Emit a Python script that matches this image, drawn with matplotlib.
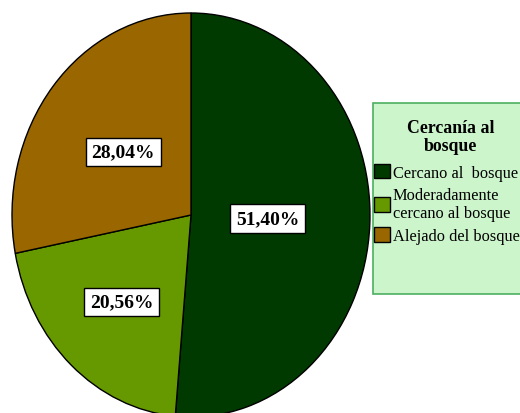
import matplotlib
matplotlib.use('Agg')
import numpy as np
import matplotlib.pyplot as plt
from matplotlib.patches import Rectangle

categorias = ['Cercano al  bosque', 'Moderadamente\ncercano al bosque', 'Alejado del bosque']
porcentajes = [51.40, 20.56, 28.04]
colores = ['#003a00', '#669900', '#996600']
titulo_leyenda = 'Cercanía al\nbosque'
# distancia radial de cada etiqueta
dist_etiqueta = [0.43, 0.58, 0.49]

plt.rcParams['font.family'] = ['Liberation Serif', 'DejaVu Serif']

fig = plt.figure(figsize=(5.2, 4.14), dpi=100)
# el pie es una elipse que se sale un poco por abajo
ax = fig.add_axes([12/520, -4/414, 358/520, 404/414])
wedges, _ = ax.pie(porcentajes, colors=colores, startangle=90, counterclock=False,
                   wedgeprops=dict(edgecolor='black', linewidth=1))
ax.set_aspect('auto')
ax.set_xlim(-1, 1)
ax.set_ylim(-1, 1)

for w, p, r in zip(wedges, porcentajes, dist_etiqueta):
    ang = np.deg2rad((w.theta1 + w.theta2) / 2)
    ax.text(r * np.cos(ang), r * np.sin(ang), f'{p:.2f}%'.replace('.', ','),
            ha='center', va='center', fontsize=14, fontweight='bold',
            bbox=dict(facecolor='white', edgecolor='black', linewidth=1,
                      boxstyle='square,pad=0.3'))

# caja de la leyenda
fig.patches.append(Rectangle((373/520, 119/414), 0.3, 191/414, transform=fig.transFigure,
                             facecolor='#ccf5cc', edgecolor='#4caf60', linewidth=1.2, zorder=1))

fig.text(451/520, 1 - 137.5/414, titulo_leyenda, ha='center', va='center', multialignment='center',
         fontsize=12.8, fontweight='bold', linespacing=1.15, zorder=6)

fig.legend(wedges, categorias, loc='center left', bbox_to_anchor=(369/520, 1 - 205/414),
           frameon=False, fontsize=11.8,
           handlelength=1.0, handleheight=1.0, handletextpad=0.15, borderpad=0.3,
           labelspacing=0.38, borderaxespad=0)

fig.savefig('out.png', dpi=100)
